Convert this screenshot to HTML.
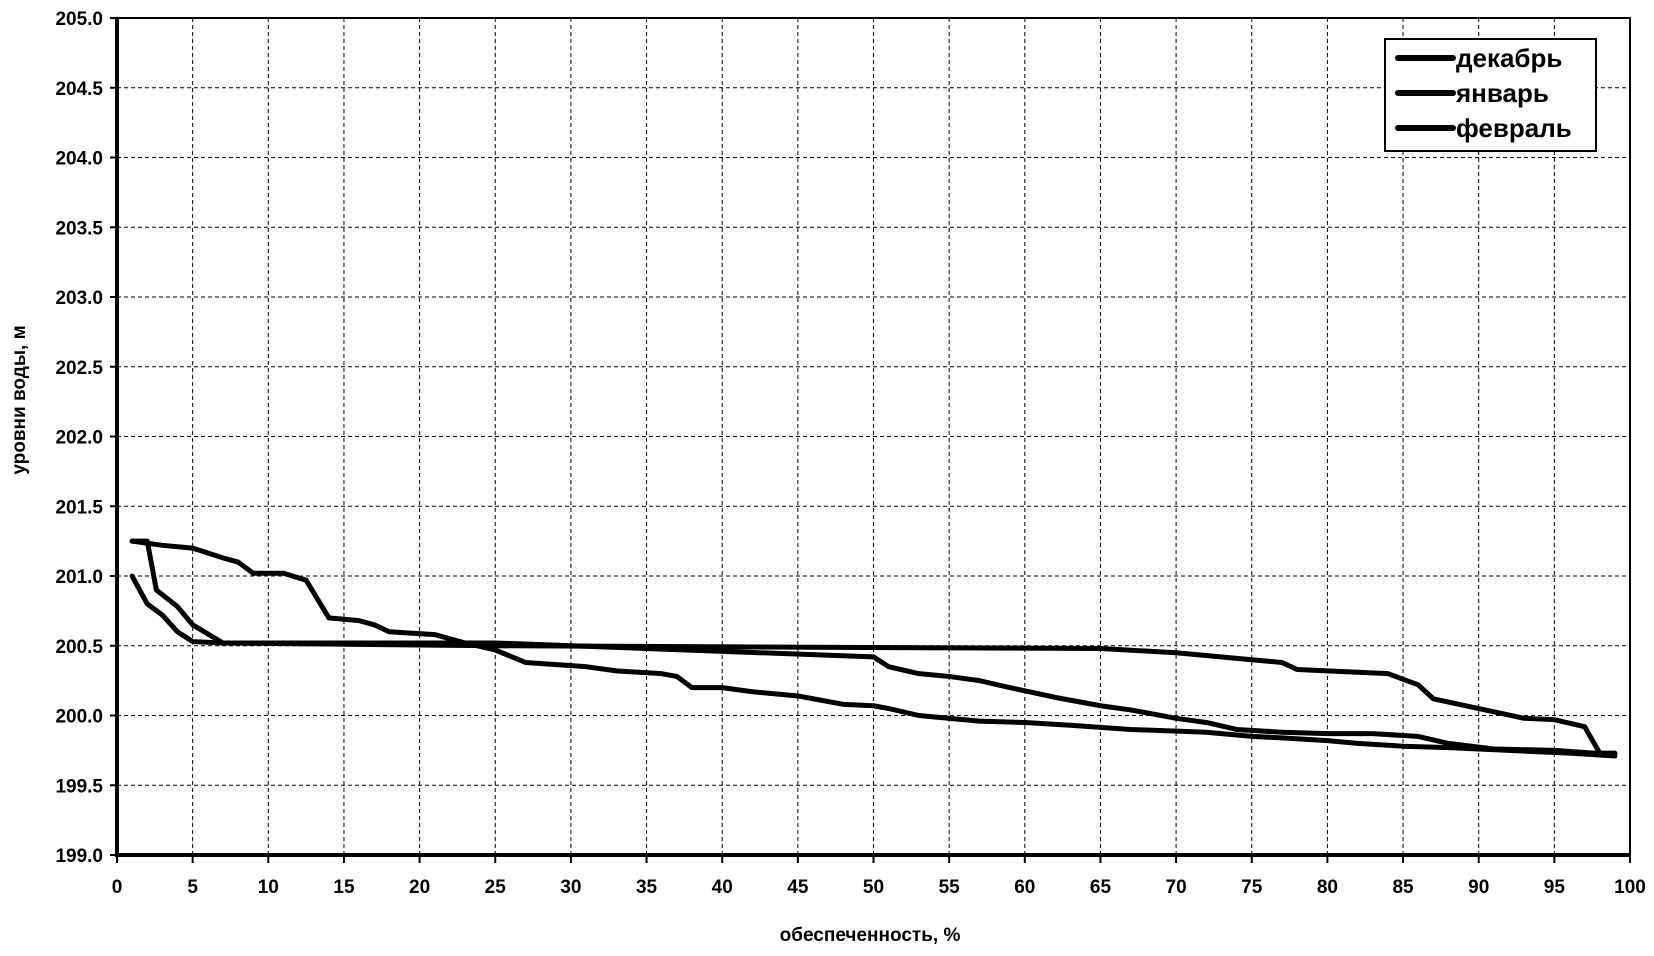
<!DOCTYPE html>
<html><head><meta charset="utf-8"><style>
html,body{margin:0;padding:0;background:#fff;}
svg text{font-family:"Liberation Sans",sans-serif;font-weight:bold;fill:#000;}
</style></head><body>
<svg width="1654" height="951" xmlns="http://www.w3.org/2000/svg">
<g id="grid" stroke="#000" stroke-width="1" stroke-dasharray="4,3" fill="none">
</g>
<script>
(function(){
var ns="http://www.w3.org/2000/svg",svg=document.querySelector("svg"),g=document.getElementById("grid");
function X(x){return 117+15.13*x;} function Y(v){return 855-139.5*(v-199);}
function el(t,a,p){var e=document.createElementNS(ns,t);for(var k in a)e.setAttribute(k,a[k]);(p||svg).appendChild(e);return e;}
for(var i=1;i<=20;i++){var x=X(i*5);el("line",{x1:x,y1:18,x2:x,y2:855},g);}
for(var j=1;j<=11;j++){var y=Y(199+j*0.5);el("line",{x1:117,y1:y,x2:1630,y2:y},g);}
el("rect",{x:117,y:18,width:1513,height:837,fill:"none",stroke:"#000","stroke-width":2});
el("line",{x1:117,y1:18,x2:117,y2:856,stroke:"#000","stroke-width":4});
el("line",{x1:115,y1:855,x2:1630,y2:855,stroke:"#000","stroke-width":4});
for(var i=0;i<=20;i++){var x=X(i*5);el("line",{x1:x,y1:855,x2:x,y2:863,stroke:"#000","stroke-width":2});
var t=el("text",{x:x,y:893,"text-anchor":"middle","font-size":"19"});t.textContent=i*5;}
for(var j=0;j<=12;j++){var v=199+j*0.5,y=Y(v);el("line",{x1:110,y1:y,x2:117,y2:y,stroke:"#000","stroke-width":2});
var t=el("text",{x:103,y:y+7,"text-anchor":"end","font-size":"19"});t.textContent=v.toFixed(1);}
var t=el("text",{x:870,y:941,"text-anchor":"middle","font-size":"19"});t.textContent="обеспеченность, %";
t=el("text",{x:0,y:0,"text-anchor":"middle","font-size":"19",transform:"translate(25,400) rotate(-90)"});t.textContent="уровни воды, м";
var A=[[1,201.25],[2,201.25],[2.6,200.9],[4,200.78],[5,200.65],[7,200.52],[25,200.5],[65,200.48],[70,200.45],[75,200.4],[77,200.38],[78,200.33],[84,200.3],[86,200.22],[87,200.12],[90,200.05],[93,199.98],[95,199.97],[97,199.92],[98,199.73],[99,199.73]];
var B=[[1,201.25],[3,201.22],[5,201.2],[7,201.13],[8,201.1],[9,201.02],[11,201.02],[12.5,200.97],[14,200.7],[16,200.68],[17,200.65],[18,200.6],[21,200.58],[23,200.52],[25,200.47],[27,200.38],[31,200.35],[33,200.32],[36,200.3],[37,200.28],[38,200.2],[40,200.2],[42,200.17],[45,200.14],[46,200.12],[48,200.08],[50,200.07],[51,200.05],[53,200.0],[57,199.96],[60,199.95],[63,199.93],[67,199.9],[72,199.88],[75,199.85],[77,199.84],[80,199.82],[82,199.8],[85,199.78],[88,199.77],[92,199.75],[96,199.73],[99,199.71]];
var C=[[1,201.0],[2,200.8],[3,200.72],[4,200.6],[5,200.53],[7,200.52],[25,200.52],[50,200.42],[51,200.35],[53,200.3],[55,200.28],[57,200.25],[59,200.2],[62,200.13],[65,200.07],[67,200.04],[70,199.98],[72,199.95],[74,199.9],[77,199.88],[80,199.87],[83,199.87],[86,199.85],[88,199.8],[91,199.76],[95,199.75],[99,199.72]];
[A,B,C].forEach(function(s){el("polyline",{points:s.map(function(p){return X(p[0])+","+Y(p[1]);}).join(" "),fill:"none",stroke:"#000","stroke-width":5,"stroke-linejoin":"round","stroke-linecap":"round"});});
el("rect",{x:1385,y:39,width:211,height:112,fill:"#fff",stroke:"#000","stroke-width":2});
var names=["декабрь","январь","февраль"];
for(var k=0;k<3;k++){var y=58+k*35;el("line",{x1:1398,y1:y,x2:1453,y2:y,stroke:"#000","stroke-width":6,"stroke-linecap":"round"});
var t=el("text",{x:1456,y:y+9,"font-size":"26"});t.textContent=names[k];}
})();
</script>
</svg>
</body></html>
